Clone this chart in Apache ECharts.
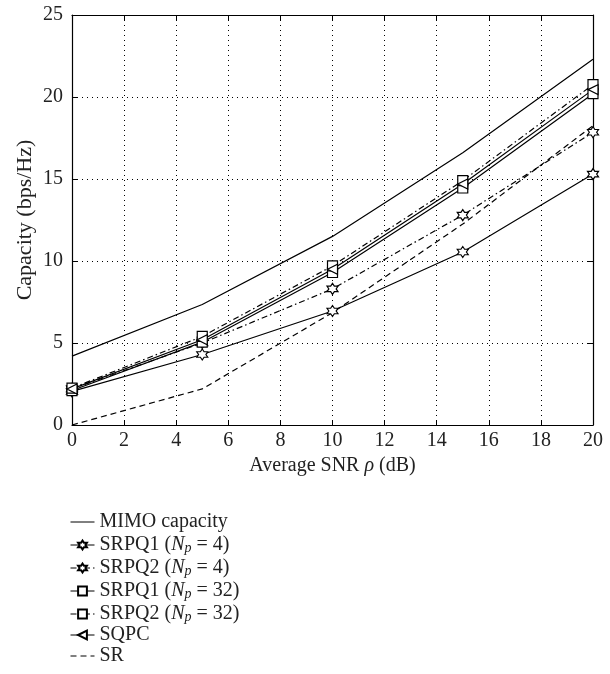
<!DOCTYPE html>
<html><head><meta charset="utf-8">
<script src="https://cdn.jsdelivr.net/npm/echarts@6/dist/echarts.min.js"></script>
<style>html,body{margin:0;padding:0;background:#fff}#c{width:610px;height:674px}</style>
</head><body><div id="c"></div>
<script>
const snr = [0, 5, 10, 15, 20];
const mimo = [4.2, 7.35, 11.5, 16.6, 22.3];
const srpq1_4 = [2.05, 4.3, 6.95, 10.55, 15.3];
const srpq2_4 = [2.2, 5.0, 8.3, 12.8, 17.85];
const srpq1_32 = [2.1, 5.05, 9.3, 14.45, 20.2];
const srpq2_32 = [2.25, 5.4, 9.7, 14.9, 20.75];
const sqpc = [2.2, 5.2, 9.5, 14.7, 20.45];
const sr = [0, 2.2, 6.85, 12.25, 18.25];
const xTicks = [0, 2, 4, 6, 8, 10, 12, 14, 16, 18, 20];
const yTicks = [0, 5, 10, 15, 20, 25];

const FONT = 'Liberation Serif';
const STAR = 'path://M0,-10 L2.89,-5 L8.66,-5 L5.77,0 L8.66,5 L2.89,5 L0,10 L-2.89,5 L-8.66,5 L-5.77,0 L-8.66,-5 L-2.89,-5 Z';
const LTRI = 'path://M0,5 L10,0 L10,10 Z';
const DASHDOT = [6, 3, 1.5, 3];
const pts = a => snr.map((x, i) => [x, a[i]]);

function mk(name, data, type, symbol, size) {
  return {
    name, type: 'line', data: pts(data),
    symbol: symbol || 'none', symbolSize: size || 10, showSymbol: !!symbol,
    lineStyle: { color: '#000', width: 1.2, type: type },
    itemStyle: { color: '#fff', borderColor: '#000', borderWidth: 1.2 },
    emphasis: { disabled: true }, animation: false, z: 3
  };
}
const hidden = { color: 'transparent', borderColor: 'transparent', borderWidth: 0, opacity: 0 };

const chart = echarts.init(document.getElementById('c'));
const axisCommon = {
  axisLine: { show: true, onZero: false, lineStyle: { color: '#000', width: 1.2 } },
  axisTick: { show: true, inside: true, length: 5, lineStyle: { color: '#000' } },
};
const txt = { fontFamily: FONT, fontSize: 20, color: '#222' };
chart.setOption({
  backgroundColor: '#fff',
  textStyle: { fontFamily: FONT },
  grid: { left: 72, right: 17, top: 15, bottom: 249, show: false },
  legend: {
    orient: 'vertical', left: 70, top: 512, height: 170, padding: 0,
    itemWidth: 24, itemHeight: 11, itemGap: 1,
    lineStyle: { width: 1 },
    textStyle: { ...txt, lineHeight: 20,
      rich: { i: { ...txt, fontStyle: 'italic', lineHeight: 20 },
              sub: { ...txt, fontStyle: 'italic', fontSize: 14, lineHeight: 20, verticalAlign: 'bottom', padding: [8, 0, 0, 0] },
              n: { ...txt, lineHeight: 20 } } },
    formatter: function (name) {
      const m = name.match(/^(.*)\(Np = (\d+)\)$/);
      if (m) return '{n|' + m[1] + '(}{i|N}{sub|p}{n| = ' + m[2] + ')}';
      return name;
    },
    data: [{ name: 'MIMO capacity', itemStyle: hidden }, 'SRPQ1 (Np = 4)', 'SRPQ2 (Np = 4)', 'SRPQ1 (Np = 32)', 'SRPQ2 (Np = 32)', 'SQPC', { name: 'SR', itemStyle: hidden }]
  },
  xAxis: [{
    type: 'value', min: 0, max: 20, interval: 2, position: 'bottom',
    name: '{n|Average SNR }{i|ρ}{n| (dB)}', nameLocation: 'middle', nameGap: 28,
    nameTextStyle: { rich: { n: { ...txt }, i: { ...txt, fontStyle: 'italic' } } },
    ...axisCommon,
    axisLabel: { ...txt, margin: 6,
      formatter: v => xTicks.includes(v) ? String(v) : '' },
    splitLine: { show: true, lineStyle: { color: '#000', type: [1, 4], width: 1 } }
  }, {
    type: 'value', min: 0, max: 20, interval: 2, position: 'top',
    ...axisCommon, axisLabel: { show: false }, splitLine: { show: false }
  }],
  yAxis: [{
    type: 'value', min: 0, max: 25, interval: 5, position: 'left',
    name: 'Capacity (bps/Hz)', nameLocation: 'middle', nameGap: 36, nameMoveOverlap: false,
    nameTextStyle: { ...txt, fontSize: 22 },
    ...axisCommon,
    axisLabel: { ...txt, margin: 9,
      formatter: v => yTicks.includes(v) ? String(v) : '' },
    splitLine: { show: true, lineStyle: { color: '#000', type: [1, 4], width: 1 } }
  }, {
    type: 'value', min: 0, max: 25, interval: 5, position: 'right',
    ...axisCommon, axisLabel: { show: false }, splitLine: { show: false }
  }],
  series: [
    mk('MIMO capacity', mimo, 'solid'),
    mk('SRPQ1 (Np = 4)', srpq1_4, 'solid', STAR, 11),
    mk('SRPQ2 (Np = 4)', srpq2_4, DASHDOT, STAR, 11),
    mk('SRPQ1 (Np = 32)', srpq1_32, 'solid', 'rect', 10),
    mk('SRPQ2 (Np = 32)', srpq2_32, DASHDOT, 'rect', 10),
    mk('SQPC', sqpc, 'solid', LTRI, 10),
    mk('SR', sr, [6, 4])
  ]
});
</script></body></html>
